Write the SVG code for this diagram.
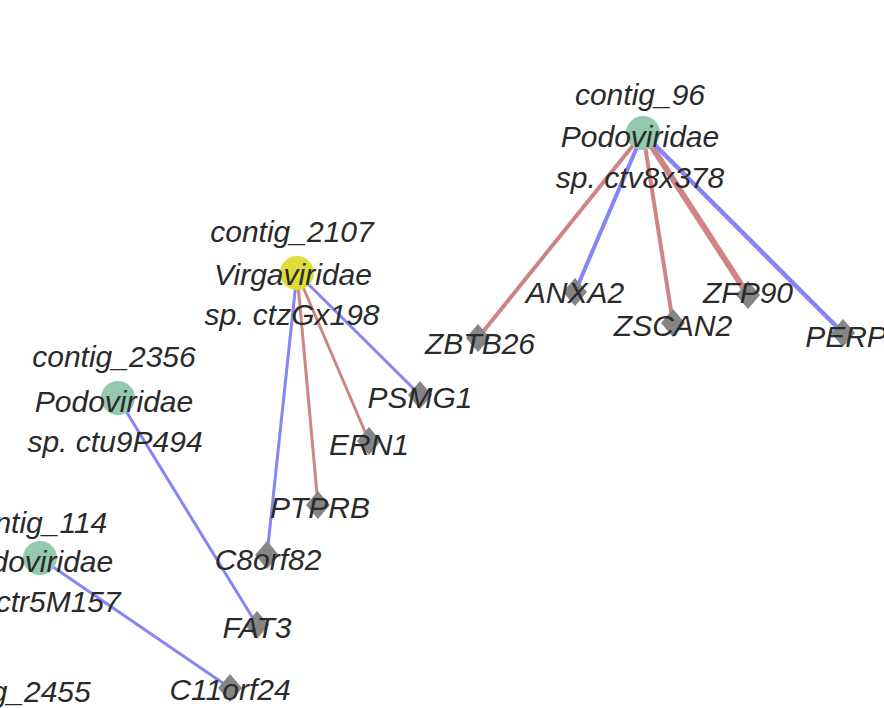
<svg xmlns="http://www.w3.org/2000/svg" width="884" height="708" viewBox="0 0 884 708">
<style>
.lbl{font-family:"Liberation Sans",Arial,sans-serif;font-style:italic;font-size:30px;fill:#2a2a2a;text-anchor:middle}
.gene{fill:#858585}
.green{fill:#93c9ae}
.yellow{fill:#dede3a}
.r{stroke:#cf8585;fill:none;stroke-linecap:round}
.b{stroke:#8585f5;fill:none;stroke-linecap:round}
</style>
<defs>
<polygon id="dia" points="0,-14 12,0 0,14 -12,0"/>
</defs>
<rect width="884" height="708" fill="#ffffff"/>
<g id="edges">
<line class="r" x1="643" y1="133" x2="478" y2="338" stroke-width="4"/>
<line class="b" x1="643" y1="133" x2="575" y2="292" stroke-width="4"/>
<line class="r" x1="643" y1="133" x2="673" y2="323" stroke-width="4"/>
<line class="r" x1="643" y1="133" x2="748" y2="295" stroke-width="6"/>
<line class="b" x1="643" y1="133" x2="843" y2="333" stroke-width="4.5"/>
<line class="b" x1="297" y1="273" x2="420" y2="395" stroke-width="3"/>
<line class="r" x1="297" y1="273" x2="369" y2="441" stroke-width="3"/>
<line class="r" x1="297" y1="273" x2="318" y2="505" stroke-width="3"/>
<line class="b" x1="297" y1="273" x2="267" y2="555" stroke-width="3"/>
<line class="b" x1="118" y1="398" x2="257" y2="625" stroke-width="3"/>
<line class="b" x1="40" y1="558" x2="230" y2="688" stroke-width="3"/>
</g>
<g id="node-contig_96">
<circle class="green" cx="643" cy="133" r="17"/>
<text class="lbl" x="640"><tspan x="640" y="105">contig_96</tspan><tspan x="640" y="147">Podoviridae</tspan><tspan x="640" y="188">sp. ctv8x378</tspan></text>
</g>
<g id="node-contig_2107">
<circle class="yellow" cx="297" cy="273" r="17"/>
<text class="lbl"><tspan x="292" y="242">contig_2107</tspan><tspan x="293" y="285">Virgaviridae</tspan><tspan x="292" y="325">sp. ctzGx198</tspan></text>
</g>
<g id="node-contig_2356">
<circle class="green" cx="118" cy="398" r="17"/>
<text class="lbl"><tspan x="114" y="367">contig_2356</tspan><tspan x="114" y="412">Podoviridae</tspan><tspan x="115" y="452">sp. ctu9P494</tspan></text>
</g>
<g id="node-contig_114">
<circle class="green" cx="40" cy="558" r="17"/>
<text class="lbl"><tspan x="35" y="533">contig_114</tspan><tspan x="34" y="572">Podoviridae</tspan><tspan x="34" y="612">sp. ctr5M157</tspan></text>
</g>
<g id="node-contig_2455">
<text class="lbl" x="9" y="702">contig_2455</text>
</g>
<g id="node-ZBTB26"><use href="#dia" class="gene" x="478" y="338"/><text class="lbl" x="480" y="354">ZBTB26</text></g>
<g id="node-ANXA2"><use href="#dia" class="gene" x="575" y="292"/><text class="lbl" x="575" y="303">ANXA2</text></g>
<g id="node-ZSCAN2"><use href="#dia" class="gene" x="673" y="323"/><text class="lbl" x="673" y="336">ZSCAN2</text></g>
<g id="node-ZFP90"><use href="#dia" class="gene" x="748" y="295"/><text class="lbl" x="748" y="303">ZFP90</text></g>
<g id="node-PERP"><use href="#dia" class="gene" x="843" y="333"/><text class="lbl" x="846" y="347">PERP</text></g>
<g id="node-PSMG1"><use href="#dia" class="gene" x="420" y="395"/><text class="lbl" x="420" y="408">PSMG1</text></g>
<g id="node-ERN1"><use href="#dia" class="gene" x="369" y="441"/><text class="lbl" x="369" y="455">ERN1</text></g>
<g id="node-PTPRB"><use href="#dia" class="gene" x="318" y="505"/><text class="lbl" x="320" y="518">PTPRB</text></g>
<g id="node-C8orf82"><use href="#dia" class="gene" x="267" y="555"/><text class="lbl" x="268" y="570">C8orf82</text></g>
<g id="node-FAT3"><use href="#dia" class="gene" x="257" y="625"/><text class="lbl" x="257" y="638">FAT3</text></g>
<g id="node-C11orf24"><use href="#dia" class="gene" x="230" y="688"/><text class="lbl" x="230" y="700">C11orf24</text></g>
</svg>
